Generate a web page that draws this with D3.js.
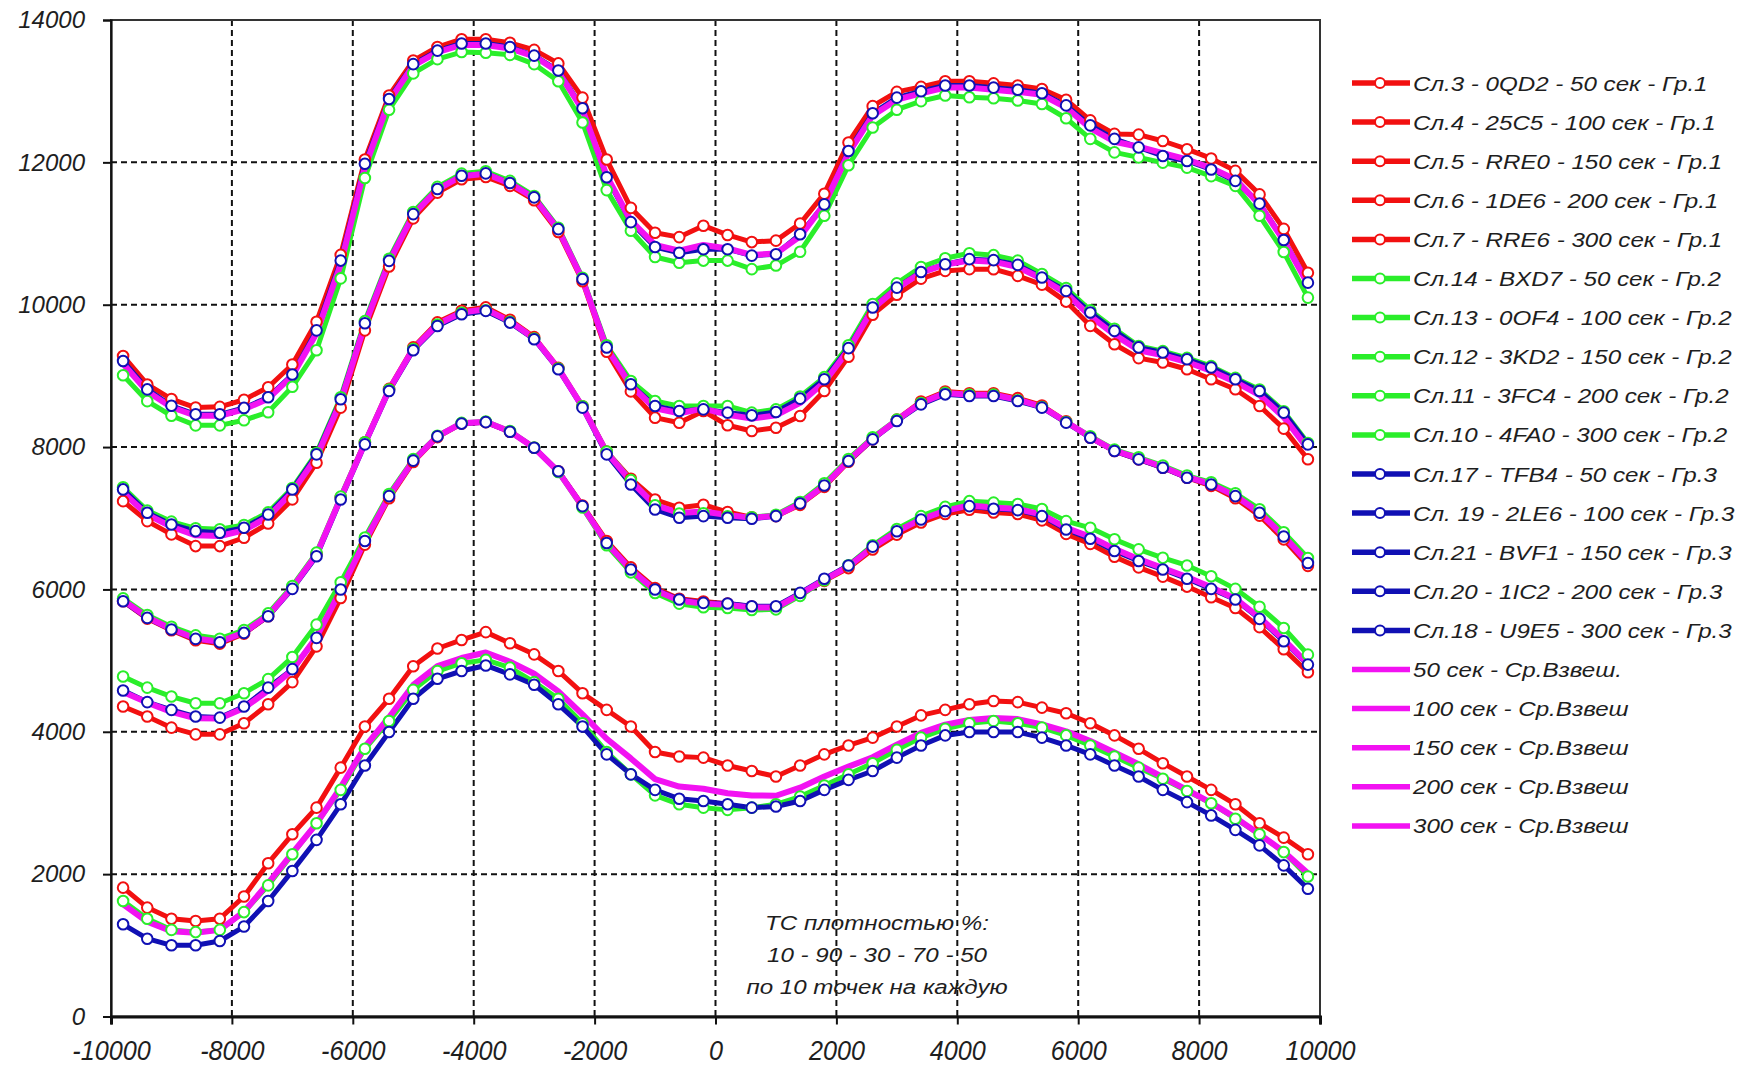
<!DOCTYPE html>
<html>
<head>
<meta charset="utf-8">
<script src="https://cdn.jsdelivr.net/npm/d3@7"></script>
<style>
  html, body { margin: 0; padding: 0; background: #ffffff; }
  svg { display: block; }
  text { font-family: Arial, "Liberation Sans", sans-serif; font-style: italic; fill: #1e1e1e; }
</style>
</head>
<body>
<svg id="chart" width="1740" height="1070"></svg>
<script>
// Measurement positions along the profile
const positions = [-9800, -9400, -9000, -8600, -8200, -7800, -7400, -7000, -6600, -6200,
  -5800, -5400, -5000, -4600, -4200, -3800, -3400, -3000, -2600, -2200,
  -1800, -1400, -1000, -600, -200, 200, 600, 1000, 1400, 1800,
  2200, 2600, 3000, 3400, 3800, 4200, 4600, 5000, 5400, 5800,
  6200, 6600, 7000, 7400, 7800, 8200, 8600, 9000, 9400, 9800];

const xTicks = [-10000, -8000, -6000, -4000, -2000, 0, 2000, 4000, 6000, 8000, 10000];
const yTicks = [0, 2000, 4000, 6000, 8000, 10000, 12000, 14000];

// Group 1 samples
const sl3_0QD2 = [1810, 1530, 1374, 1342, 1374, 1686, 2154, 2560, 2934, 3496, 4074, 4464, 4920, 5170, 5290, 5400, 5244, 5088, 4854, 4542, 4308, 4074, 3715, 3652, 3637, 3527, 3449, 3371, 3527, 3683, 3808, 3918, 4074, 4230, 4308, 4386, 4433, 4417, 4339, 4261, 4120, 3949, 3761, 3559, 3371, 3184, 2981, 2716, 2513, 2279];
const sl4_25C5 = [4355, 4214, 4058, 3964, 3964, 4120, 4386, 4698, 5200, 5880, 6630, 7281, 7790, 8140, 8330, 8350, 8215, 7991, 7660, 7180, 6680, 6310, 6020, 5870, 5830, 5800, 5760, 5750, 5930, 6120, 6300, 6560, 6770, 6940, 7060, 7120, 7080, 7060, 6970, 6780, 6640, 6460, 6310, 6180, 6040, 5890, 5740, 5470, 5160, 4836];
const sl5_RRE0 = [5834, 5590, 5426, 5285, 5238, 5379, 5623, 6028, 6497, 7294, 8068, 8818, 9400, 9752, 9916, 9963, 9789, 9545, 9113, 8574, 7937, 7555, 7263, 7147, 7190, 7087, 7013, 7030, 7188, 7441, 7793, 8108, 8386, 8640, 8781, 8757, 8757, 8687, 8584, 8363, 8132, 7944, 7827, 7710, 7570, 7455, 7281, 7037, 6703, 6331];
const sl6_1DE6 = [7240, 6960, 6773, 6609, 6609, 6726, 6926, 7265, 7780, 8554, 9640, 10536, 11213, 11575, 11762, 11795, 11670, 11468, 11022, 10329, 9340, 8782, 8413, 8342, 8507, 8306, 8226, 8272, 8436, 8788, 9270, 9860, 10140, 10366, 10475, 10500, 10499, 10405, 10282, 10044, 9703, 9445, 9250, 9188, 9093, 8953, 8812, 8578, 8259, 7828];
const sl7_RRE6 = [9280, 8880, 8675, 8555, 8565, 8665, 8840, 9160, 9760, 10700, 12040, 12940, 13430, 13620, 13730, 13730, 13680, 13580, 13390, 12910, 12040, 11360, 11010, 10950, 11110, 10980, 10880, 10900, 11140, 11560, 12280, 12790, 12990, 13060, 13140, 13140, 13110, 13080, 13030, 12880, 12590, 12400, 12390, 12300, 12185, 12055, 11880, 11550, 11065, 10450];

// Group 2 samples
const sl14_BXD7 = [1623, 1374, 1217, 1186, 1217, 1467, 1842, 2279, 2716, 3184, 3761, 4152, 4589, 4854, 4963, 5010, 4901, 4698, 4464, 4120, 3715, 3402, 3106, 2981, 2934, 2903, 2934, 2981, 3090, 3246, 3402, 3559, 3746, 3918, 4042, 4120, 4152, 4120, 4058, 3949, 3808, 3652, 3496, 3340, 3168, 2997, 2778, 2560, 2310, 1967];
const sl13_0OF4 = [4776, 4620, 4495, 4401, 4401, 4542, 4740, 5050, 5506, 6100, 6730, 7340, 7830, 8160, 8340, 8360, 8225, 7995, 7650, 7150, 6620, 6240, 5950, 5800, 5750, 5740, 5710, 5720, 5910, 6130, 6340, 6620, 6850, 7030, 7160, 7240, 7220, 7200, 7130, 6960, 6866, 6704, 6563, 6444, 6337, 6186, 6008, 5756, 5459, 5084];
const sl12_3KD2 = [5874, 5640, 5476, 5355, 5308, 5429, 5663, 6048, 6517, 7304, 8068, 8808, 9380, 9722, 9886, 9923, 9759, 9525, 9103, 8574, 7937, 7535, 7183, 7067, 7070, 7027, 7013, 7050, 7228, 7491, 7833, 8138, 8386, 8620, 8761, 8737, 8737, 8657, 8564, 8353, 8152, 7964, 7857, 7740, 7600, 7505, 7351, 7127, 6803, 6441];
const sl11_3FC4 = [7435, 7107, 6953, 6859, 6846, 6906, 7083, 7425, 7917, 8701, 9770, 10646, 11303, 11655, 11842, 11875, 11740, 11528, 11082, 10379, 9430, 8929, 8647, 8576, 8577, 8578, 8484, 8530, 8710, 8982, 9430, 10010, 10300, 10530, 10653, 10724, 10696, 10620, 10432, 10234, 9920, 9662, 9420, 9348, 9253, 9137, 8972, 8808, 8504, 8058];
const sl10_4FA0 = [9010, 8645, 8440, 8305, 8305, 8377, 8490, 8847, 9360, 10370, 11780, 12740, 13250, 13450, 13550, 13540, 13510, 13380, 13140, 12560, 11610, 11040, 10670, 10590, 10620, 10620, 10500, 10550, 10745, 11250, 11960, 12490, 12740, 12860, 12940, 12915, 12900, 12870, 12820, 12620, 12330, 12140, 12070, 11996, 11926, 11806, 11670, 11250, 10740, 10100];

// Group 3 samples
const sl17_TFB4 = [1295, 1093, 1000, 1000, 1061, 1264, 1623, 2045, 2482, 2981, 3527, 3996, 4464, 4745, 4854, 4932, 4807, 4660, 4386, 4074, 3683, 3402, 3184, 3059, 3028, 2981, 2934, 2950, 3028, 3184, 3324, 3449, 3637, 3808, 3949, 3996, 3996, 3996, 3918, 3808, 3683, 3527, 3371, 3184, 3012, 2825, 2622, 2404, 2123, 1795];
const sl19_2LE6 = [4580, 4417, 4308, 4214, 4199, 4355, 4620, 4880, 5319, 5998, 6680, 7311, 7810, 8150, 8330, 8350, 8215, 7991, 7660, 7170, 6652, 6280, 5998, 5858, 5811, 5802, 5764, 5764, 5952, 6150, 6336, 6601, 6818, 6983, 7100, 7170, 7133, 7114, 7030, 6842, 6711, 6540, 6399, 6280, 6150, 6008, 5858, 5586, 5272, 4944];
const sl21_BVF1 = [5834, 5600, 5436, 5305, 5258, 5389, 5623, 6008, 6467, 7264, 8038, 8788, 9360, 9702, 9866, 9913, 9749, 9515, 9093, 8554, 7897, 7475, 7123, 7007, 7030, 7007, 6993, 7030, 7208, 7461, 7803, 8108, 8366, 8600, 8741, 8717, 8717, 8647, 8554, 8343, 8132, 7944, 7827, 7710, 7570, 7475, 7311, 7077, 6743, 6371];
const sl20_1IC2 = [7405, 7077, 6913, 6819, 6796, 6866, 7053, 7405, 7897, 8671, 9740, 10616, 11273, 11625, 11812, 11845, 11710, 11508, 11062, 10359, 9400, 8882, 8577, 8506, 8530, 8484, 8446, 8492, 8680, 8952, 9390, 9960, 10240, 10460, 10569, 10640, 10626, 10560, 10382, 10194, 9890, 9632, 9400, 9328, 9233, 9117, 8952, 8788, 8484, 8038];
const sl18_U9E5 = [9210, 8810, 8580, 8460, 8460, 8550, 8700, 9020, 9640, 10620, 11980, 12890, 13380, 13570, 13670, 13670, 13620, 13500, 13290, 12760, 11790, 11160, 10810, 10730, 10780, 10780, 10690, 10710, 10990, 11410, 12160, 12690, 12910, 13000, 13080, 13080, 13050, 13020, 12970, 12800, 12520, 12330, 12210, 12090, 12020, 11900, 11740, 11420, 10910, 10310];

// Weighted averages per exposure time
const avg50 = [1576, 1332, 1197, 1176, 1217, 1472, 1873, 2295, 2711, 3220, 3787, 4204, 4658, 4923, 5036, 5114, 4984, 4815, 4568, 4245, 3902, 3626, 3335, 3231, 3200, 3137, 3106, 3101, 3215, 3371, 3511, 3642, 3819, 3985, 4100, 4167, 4194, 4178, 4105, 4006, 3870, 3709, 3543, 3361, 3184, 3002, 2794, 2560, 2315, 2014];
const avg100 = [4560, 4410, 4280, 4190, 4185, 4335, 4580, 4870, 5330, 5990, 6680, 7310, 7810, 8150, 8335, 8355, 8220, 7990, 7655, 7165, 6650, 6275, 5990, 5845, 5800, 5785, 5745, 5745, 5935, 6135, 6325, 6595, 6815, 6985, 7105, 7180, 7150, 7130, 7050, 6865, 6740, 6570, 6425, 6300, 6175, 6030, 5870, 5605, 5295, 4955];
const avg150 = [5850, 5610, 5445, 5310, 5265, 5395, 5635, 6025, 6490, 7285, 8055, 8805, 9380, 9725, 9890, 9935, 9765, 9530, 9105, 8565, 7925, 7520, 7185, 7075, 7095, 7045, 7005, 7035, 7205, 7460, 7810, 8120, 8380, 8620, 8760, 8735, 8735, 8665, 8565, 8355, 8140, 7950, 7840, 7720, 7580, 7480, 7315, 7080, 6750, 6380];
const avg200 = [7360, 7050, 6880, 6760, 6750, 6830, 7020, 7370, 7860, 8640, 9720, 10600, 11265, 11620, 11805, 11840, 11705, 11500, 11055, 10355, 9390, 8865, 8545, 8475, 8540, 8455, 8400, 8445, 8620, 8910, 9365, 9945, 10230, 10450, 10565, 10620, 10605, 10530, 10365, 10160, 9840, 9580, 9360, 9290, 9195, 9070, 8915, 8730, 8420, 7975];
const avg300 = [9170, 8780, 8560, 8440, 8440, 8530, 8680, 9000, 9600, 10570, 11930, 12860, 13360, 13550, 13650, 13650, 13600, 13490, 13270, 12740, 11810, 11180, 10840, 10760, 10840, 10790, 10700, 10720, 10960, 11410, 12130, 12660, 12880, 12970, 13050, 13050, 13020, 12990, 12950, 12770, 12480, 12290, 12220, 12130, 12040, 11920, 11760, 11410, 10900, 10290];

const RED = "#f21010", GREEN = "#2aee2a", BLUE = "#1010b4", MAGENTA = "#f212f2";

const series = [
  { label: "Сл.3 - 0QD2 - 50 сек - Гр.1", values: sl3_0QD2, color: RED, marker: true },
  { label: "Сл.4 - 25C5 - 100 сек - Гр.1", values: sl4_25C5, color: RED, marker: true },
  { label: "Сл.5 - RRE0 - 150 сек - Гр.1", values: sl5_RRE0, color: RED, marker: true },
  { label: "Сл.6 - 1DE6 - 200 сек - Гр.1", values: sl6_1DE6, color: RED, marker: true },
  { label: "Сл.7 - RRE6 - 300 сек - Гр.1", values: sl7_RRE6, color: RED, marker: true },
  { label: "Сл.14 - BXD7 - 50 сек - Гр.2", values: sl14_BXD7, color: GREEN, marker: true },
  { label: "Сл.13 - 0OF4 - 100 сек - Гр.2", values: sl13_0OF4, color: GREEN, marker: true },
  { label: "Сл.12 - 3KD2 - 150 сек - Гр.2", values: sl12_3KD2, color: GREEN, marker: true },
  { label: "Сл.11 - 3FC4 - 200 сек - Гр.2", values: sl11_3FC4, color: GREEN, marker: true },
  { label: "Сл.10 - 4FA0 - 300 сек - Гр.2", values: sl10_4FA0, color: GREEN, marker: true },
  { label: "Сл.17 - TFB4 - 50 сек - Гр.3", values: sl17_TFB4, color: BLUE, marker: true },
  { label: "Сл. 19 - 2LE6 - 100 сек - Гр.3", values: sl19_2LE6, color: BLUE, marker: true },
  { label: "Сл.21 - BVF1 - 150 сек - Гр.3", values: sl21_BVF1, color: BLUE, marker: true },
  { label: "Сл.20 - 1IC2 - 200 сек - Гр.3", values: sl20_1IC2, color: BLUE, marker: true },
  { label: "Сл.18 - U9E5 - 300 сек - Гр.3", values: sl18_U9E5, color: BLUE, marker: true },
  { label: "50 сек - Ср.Взвеш.", values: avg50, color: MAGENTA, marker: false },
  { label: "100 сек - Ср.Взвеш", values: avg100, color: MAGENTA, marker: false },
  { label: "150 сек - Ср.Взвеш", values: avg150, color: MAGENTA, marker: false },
  { label: "200 сек - Ср.Взвеш", values: avg200, color: MAGENTA, marker: false },
  { label: "300 сек - Ср.Взвеш", values: avg300, color: MAGENTA, marker: false }
];

const noteLines = ["ТС плотностью %:", "10 - 90 - 30 - 70 - 50", "по 10 точек на каждую"];

const svg = d3.select("#chart");
const plot = { left: 111, right: 1320, top: 20, bottom: 1016.5 };

const x = d3.scaleLinear().domain([-10000, 10000]).range([plot.left, plot.right]);
const y = d3.scaleLinear().domain([0, 14000]).range([plot.bottom, plot.top]);

// dashed grid
const grid = svg.append("g");
grid.selectAll("line.v").data(xTicks.slice(1, -1)).join("line")
  .attr("x1", d => x(d)).attr("x2", d => x(d))
  .attr("y1", plot.top).attr("y2", plot.bottom)
  .attr("stroke", "#111").attr("stroke-width", 2).attr("stroke-dasharray", "6,4");
grid.selectAll("line.h").data(yTicks.slice(1, -1)).join("line")
  .attr("x1", plot.left).attr("x2", plot.right)
  .attr("y1", d => y(d)).attr("y2", d => y(d))
  .attr("stroke", "#111").attr("stroke-width", 2).attr("stroke-dasharray", "6,4");

// plot frame
svg.append("rect")
  .attr("x", plot.left).attr("y", plot.top)
  .attr("width", plot.right - plot.left).attr("height", plot.bottom - plot.top)
  .attr("fill", "none").attr("stroke", "#333").attr("stroke-width", 2);

// axes
const yAxis = svg.append("g").attr("transform", `translate(${plot.left},0)`)
  .call(d3.axisLeft(y).tickValues(yTicks).tickSize(8).tickPadding(18).tickFormat(d => String(d)));
yAxis.select(".domain").attr("stroke", "#111").attr("stroke-width", 2.2);
yAxis.selectAll(".tick line").attr("stroke", "#111").attr("stroke-width", 2);
yAxis.selectAll(".tick text").attr("font-size", 24).attr("font-style", "italic")
  .attr("fill", "#1e1e1e").attr("font-family", "Arial, 'Liberation Sans', sans-serif");

const xAxis = svg.append("g").attr("transform", `translate(0,${plot.bottom})`)
  .call(d3.axisBottom(x).tickValues(xTicks).tickSize(8).tickPadding(0).tickFormat(d => String(d)));
xAxis.select(".domain").attr("stroke", "#111").attr("stroke-width", 3);
xAxis.selectAll(".tick line").attr("stroke", "#111").attr("stroke-width", 2);
xAxis.selectAll(".tick text").remove();
xAxis.selectAll(".tick").append("text")
  .attr("transform", "translate(0,43) scale(0.9,1)")
  .attr("text-anchor", "middle")
  .attr("font-size", 28).attr("font-style", "italic").attr("fill", "#1e1e1e")
  .attr("font-family", "Arial, 'Liberation Sans', sans-serif")
  .text(d => String(d));

// series lines, then markers on top
const line = d3.line().x((d, i) => x(positions[i])).y(d => y(d));
const linesG = svg.append("g");
series.forEach(s => {
  linesG.append("path").datum(s.values)
    .attr("d", line)
    .attr("fill", "none")
    .attr("stroke", s.color)
    .attr("stroke-width", s.marker ? 5 : 6)
    .attr("stroke-linejoin", "round");
});
const markersG = svg.append("g");
series.filter(s => s.marker).forEach(s => {
  markersG.append("g").selectAll("circle").data(s.values).join("circle")
    .attr("cx", (d, i) => x(positions[i])).attr("cy", d => y(d))
    .attr("r", 5.3)
    .attr("fill", "#ffffff").attr("stroke", s.color).attr("stroke-width", 2);
});

// note inside the plot
const note = svg.append("g").attr("transform", "translate(877,0)");
note.selectAll("text").data(noteLines).join("text")
  .attr("transform", (d, i) => `translate(0,${930 + i * 32}) scale(1.15,1)`)
  .attr("text-anchor", "middle").attr("font-size", 21)
  .text(d => d);

// legend
const legend = svg.append("g");
const rowH = 39.1, legTop = 83;
const rows = legend.selectAll("g").data(series).join("g")
  .attr("transform", (d, i) => `translate(1352,${legTop + i * rowH})`);
rows.append("line").attr("x1", 0).attr("x2", 58).attr("y1", 0).attr("y2", 0)
  .attr("stroke", d => d.color).attr("stroke-width", 5.5);
rows.filter(d => d.marker).append("circle")
  .attr("cx", 28).attr("cy", 0).attr("r", 5)
  .attr("fill", "#fff").attr("stroke", d => d.color).attr("stroke-width", 2);
rows.append("text")
  .attr("transform", "translate(61,7.5) scale(1.15,1)")
  .attr("font-size", 21)
  .text(d => d.label);
</script>
</body>
</html>
